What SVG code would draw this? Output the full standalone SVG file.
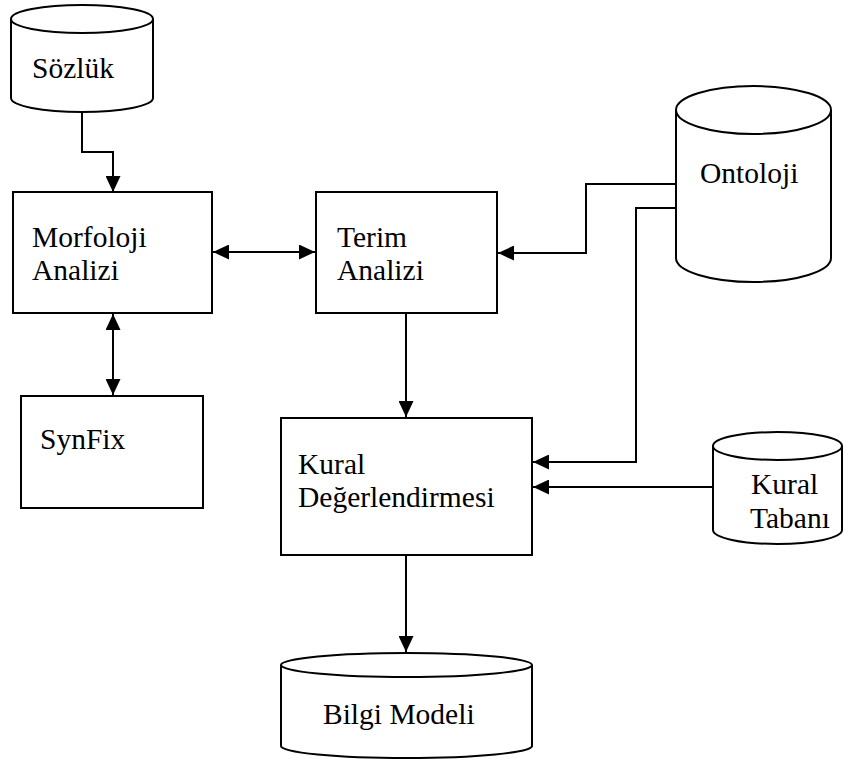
<svg xmlns="http://www.w3.org/2000/svg" width="859" height="760" viewBox="0 0 859 760">
<defs>
<marker id="ah" markerUnits="userSpaceOnUse" markerWidth="17" markerHeight="15" refX="16" refY="7.5" orient="auto-start-reverse">
<path d="M0,0 L16,7.5 L0,15 z" fill="#000"/>
</marker>
<style>
.box{fill:#fff;stroke:#000;stroke-width:2}
.cyl{fill:#fff;stroke:#000;stroke-width:2}
.c{fill:none;stroke:#000;stroke-width:2}
text{font-family:'Liberation Serif','Tinos','Noto Serif','DejaVu Serif',serif;font-size:29.5px;fill:#000}
</style>
</defs>
<rect width="859" height="760" fill="#fff"/>
<g id="connectors">
<polyline class="c" points="82,112 82,152 113,152 113,192" marker-end="url(#ah)"/>
<line class="c" x1="213" y1="252" x2="315" y2="252" marker-start="url(#ah)" marker-end="url(#ah)"/>
<line class="c" x1="113" y1="314" x2="113" y2="395" marker-start="url(#ah)" marker-end="url(#ah)"/>
<polyline class="c" points="676,184 586,184 586,253 498,253" marker-end="url(#ah)"/>
<polyline class="c" points="676,208 636,208 636,462 533,462" marker-end="url(#ah)"/>
<line class="c" x1="713" y1="487" x2="533" y2="487" marker-end="url(#ah)"/>
<line class="c" x1="406" y1="313" x2="406" y2="417" marker-end="url(#ah)"/>
<line class="c" x1="406" y1="555" x2="406" y2="652" marker-end="url(#ah)"/>
</g>
<g id="sozluk">
<path class="cyl" d="M11,19 A71,14 0 0 1 153,19 L153,98 A71,14 0 0 1 11,98 Z"/>
<path class="cyl" d="M11,19 A71,14 0 0 0 153,19" fill="none"/>
<text x="32" y="78">Sözlük</text>
</g>
<g id="morfoloji">
<rect class="box" x="13" y="192" width="199" height="121"/>
<text x="32" y="247">Morfoloji</text>
<text x="32" y="280">Analizi</text>
</g>
<g id="terim">
<rect class="box" x="316" y="192" width="181" height="121"/>
<text x="337" y="247">Terim</text>
<text x="337" y="280">Analizi</text>
</g>
<g id="synfix">
<rect class="box" x="21" y="396" width="182" height="112"/>
<text x="40" y="449">SynFix</text>
</g>
<g id="ontoloji">
<path class="cyl" d="M676,110 A77.5,24 0 0 1 831,110 L831,258 A77.5,24 0 0 1 676,258 Z"/>
<path class="cyl" d="M676,110 A77.5,24 0 0 0 831,110" fill="none"/>
<text x="700" y="183">Ontoloji</text>
</g>
<g id="kural-degerlendirmesi">
<rect class="box" x="281" y="418" width="251" height="137"/>
<text x="298" y="474">Kural</text>
<text x="298" y="507">Değerlendirmesi</text>
</g>
<g id="kural-tabani">
<path class="cyl" d="M713,446 A64.5,14 0 0 1 842,446 L842,530 A64.5,14 0 0 1 713,530 Z"/>
<path class="cyl" d="M713,446 A64.5,14 0 0 0 842,446" fill="none"/>
<text x="751" y="494">Kural</text>
<text x="750" y="528">Tabanı</text>
</g>
<g id="bilgi-modeli">
<path class="cyl" d="M281,665 A125.5,12 0 0 1 532,665 L532,746 A125.5,12 0 0 1 281,746 Z"/>
<path class="cyl" d="M281,665 A125.5,12 0 0 0 532,665" fill="none"/>
<text x="323" y="724">Bilgi Modeli</text>
</g>
</svg>
